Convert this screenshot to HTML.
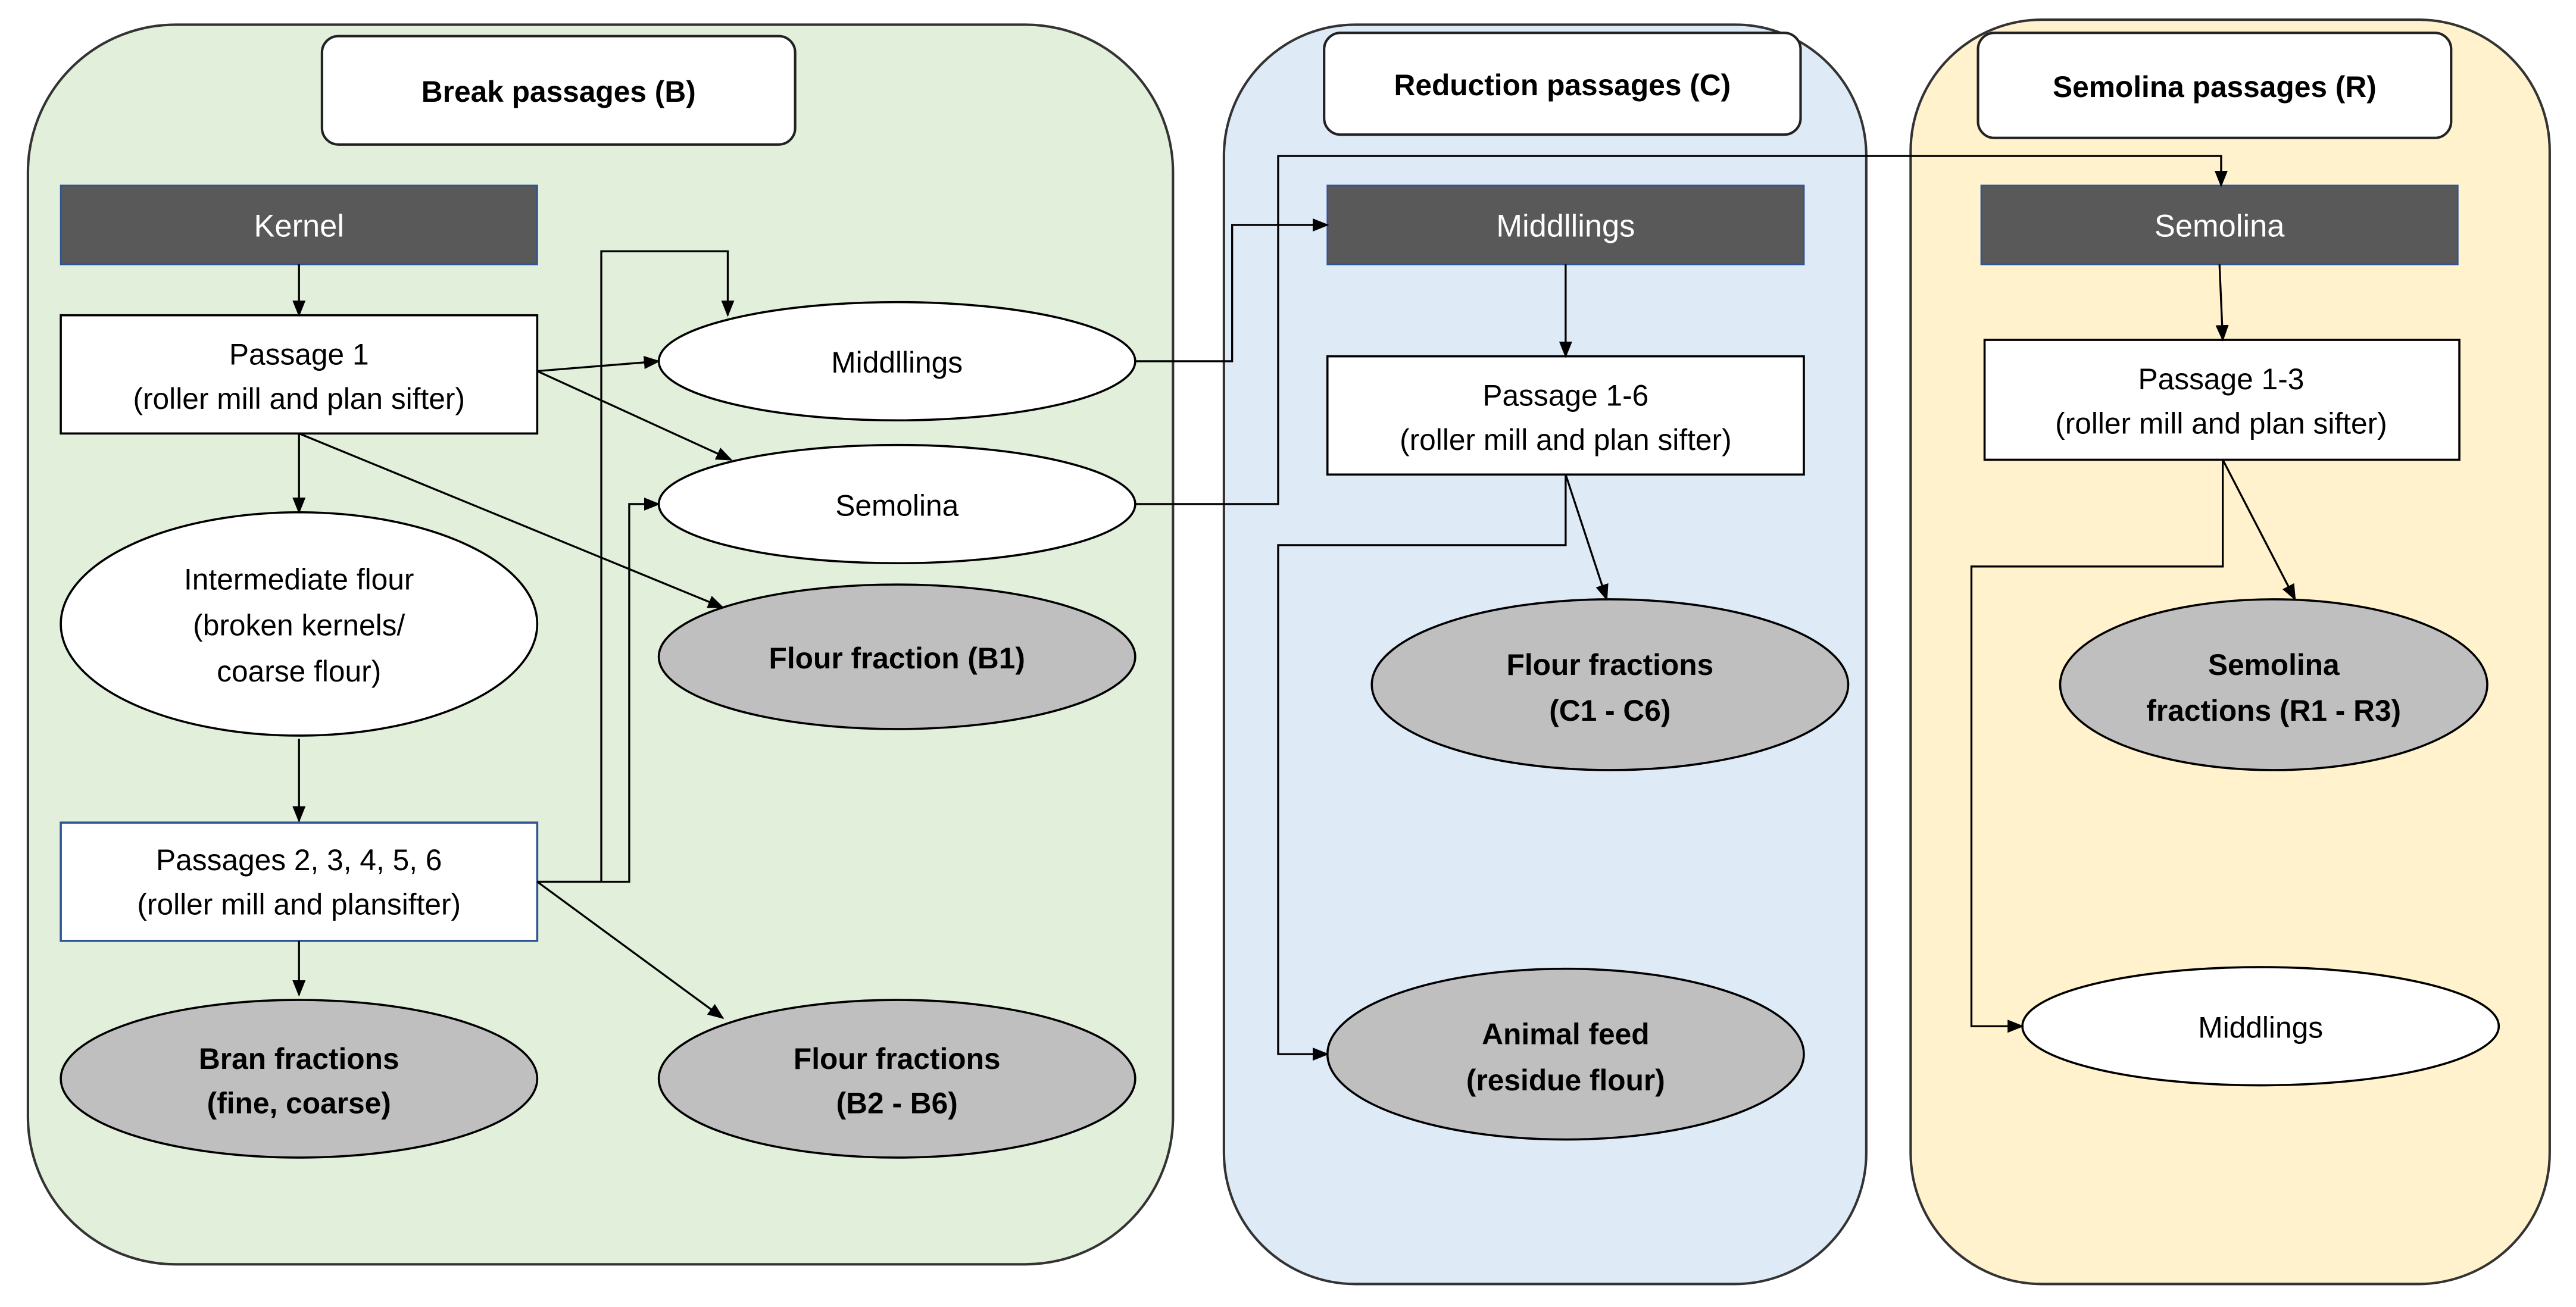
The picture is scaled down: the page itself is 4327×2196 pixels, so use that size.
<!DOCTYPE html>
<html><head><meta charset="utf-8"><style>html,body{margin:0;padding:0;background:#fff}svg{display:block}</style></head>
<body>
<svg width="4327" height="2196" viewBox="0 0 1568 796" preserveAspectRatio="none" xmlns="http://www.w3.org/2000/svg" font-family="Liberation Sans, sans-serif">
<defs><marker id="a" markerWidth="10" markerHeight="10" refX="9" refY="5" orient="auto" markerUnits="userSpaceOnUse"><path d="M0,1 L10,5 L0,9 z" fill="#000"/></marker></defs>
<rect x="17" y="15" width="697" height="755" rx="90" fill="#e2efda" stroke="#333" stroke-width="1.5"/>
<rect x="745" y="15" width="391" height="767" rx="80" fill="#deebf7" stroke="#333" stroke-width="1.5"/>
<rect x="1163" y="12" width="389" height="770" rx="80" fill="#fff2cc" stroke="#333" stroke-width="1.5"/>
<g fill="#fff" stroke="#222" stroke-width="1.5">
<rect x="196" y="22" width="288" height="66" rx="10"/>
<rect x="806" y="20" width="290" height="62" rx="10"/>
<rect x="1204" y="20" width="288" height="64" rx="10"/>
</g>
<g font-weight="bold" font-size="18" text-anchor="middle">
<text x="340" y="62">Break passages (B)</text>
<text x="951" y="58">Reduction passages (C)</text>
<text x="1348" y="59">Semolina passages (R)</text>
</g>
<g fill="#595959" stroke="#2f5597" stroke-width="1">
<rect x="37" y="113" width="290" height="48"/>
<rect x="808" y="113" width="290" height="48"/>
<rect x="1206" y="113" width="290" height="48"/>
</g>
<g fill="#fff" font-size="19" text-anchor="middle">
<text x="182" y="144">Kernel</text><text x="953" y="144">Middllings</text><text x="1351" y="144">Semolina</text>
</g>
<g fill="#fff" stroke="#000" stroke-width="1.3">
<rect x="37" y="192" width="290" height="72"/>
<rect x="808" y="217" width="290" height="72"/>
<rect x="1208" y="207" width="289" height="73"/>
<ellipse cx="546" cy="220" rx="145" ry="36"/>
<ellipse cx="546" cy="307" rx="145" ry="36"/>
<ellipse cx="182" cy="380" rx="145" ry="68"/>
<ellipse cx="1376" cy="625" rx="145" ry="36"/>
</g>
<rect x="37" y="501" width="290" height="72" fill="#fff" stroke="#2f5597" stroke-width="1.3"/>
<g fill="#bfbfbf" stroke="#000" stroke-width="1.3">
<ellipse cx="546" cy="400" rx="145" ry="44"/>
<ellipse cx="182" cy="657" rx="145" ry="48"/>
<ellipse cx="546" cy="657" rx="145" ry="48"/>
<ellipse cx="980" cy="417" rx="145" ry="52"/>
<ellipse cx="953" cy="642" rx="145" ry="52"/>
<ellipse cx="1384" cy="417" rx="130" ry="52"/>
</g>
<g font-size="18" text-anchor="middle" fill="#000">
<text x="182" y="222">Passage 1</text><text x="182" y="249">(roller mill and plan sifter)</text>
<text x="953" y="247">Passage 1-6</text><text x="953" y="274">(roller mill and plan sifter)</text>
<text x="1352" y="237">Passage 1-3</text><text x="1352" y="264">(roller mill and plan sifter)</text>
<text x="546" y="227">Middllings</text><text x="546" y="314">Semolina</text>
<text x="182" y="359">Intermediate flour</text><text x="182" y="387">(broken kernels/</text><text x="182" y="415">coarse flour)</text>
<text x="182" y="530">Passages 2, 3, 4, 5, 6</text><text x="182" y="557">(roller mill and plansifter)</text>
<text x="1376" y="632">Middlings</text>
</g>
<g font-size="18" font-weight="bold" text-anchor="middle" fill="#000">
<text x="546" y="407">Flour fraction (B1)</text>
<text x="182" y="651">Bran fractions</text><text x="182" y="678">(fine, coarse)</text>
<text x="546" y="651">Flour fractions</text><text x="546" y="678">(B2 - B6)</text>
<text x="980" y="411">Flour fractions</text><text x="980" y="439">(C1 - C6)</text>
<text x="953" y="636">Animal feed</text><text x="953" y="664">(residue flour)</text>
<text x="1384" y="411">Semolina</text><text x="1384" y="439">fractions (R1 - R3)</text>
</g>
<g fill="none" stroke="#000" stroke-width="1.2" marker-end="url(#a)">
<path d="M182,161 V192"/>
<path d="M327,226 L401,220"/>
<path d="M327,226 L445,280"/>
<path d="M182,264 V312"/>
<path d="M182,264 L440,370"/>
<path d="M182,450 L182,500"/>
<path d="M182,573 V606"/>
<path d="M327,537 L440,620"/>
<path d="M327,537 H366 V153 H443 V192"/>
<path d="M327,537 H383 V307 H401"/>
<path d="M691,220 H750 V137 H808"/>
<path d="M691,307 H778 V95 H1352 V113"/>
<path d="M953,161 V217"/>
<path d="M953,289 L978,365"/>
<path d="M953,289 V332 H778 V642 H808"/>
<path d="M1351,161 L1353,207"/>
<path d="M1353,280 L1397,365"/>
<path d="M1353,280 V345 H1200 V625 H1231"/>
</g>
</svg>
</body></html>
